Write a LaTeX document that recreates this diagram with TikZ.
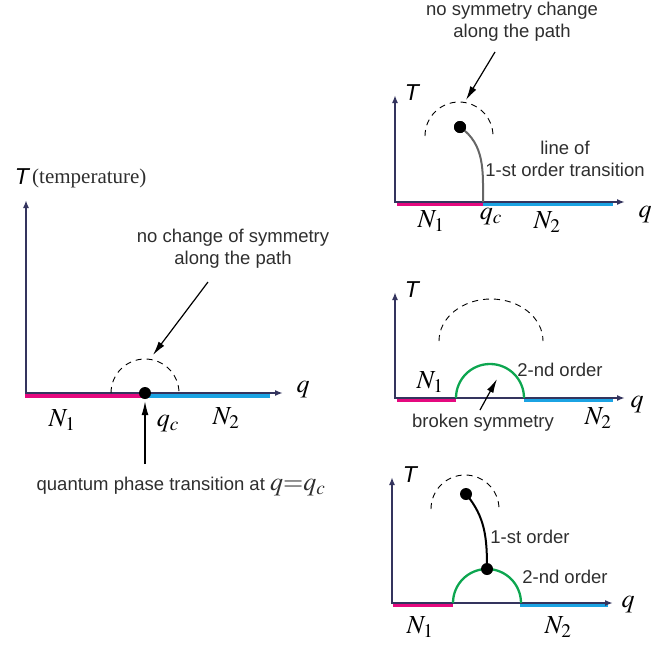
\documentclass[tikz,border=0pt]{standalone}
\usepackage{mathptmx}
\usepackage{fontspec}
\setmainfont{Liberation Sans}
\newfontfamily\notefont{Liberation Serif}
\usetikzlibrary{arrows.meta}
\definecolor{axisnavy}{HTML}{34345E}
\definecolor{phasepink}{HTML}{E5097F}
\definecolor{phasecyan}{HTML}{1BA3E3}
\definecolor{phasegreen}{HTML}{0DA650}
\tikzset{
  phaseaxes/.style={{Latex[length=8pt,width=6pt]}-{Latex[length=8pt,width=6pt]},line width=1.8pt,axisnavy},
  bandone/.style={line width=4pt,phasepink},
  bandtwo/.style={line width=4pt,phasecyan},
  pathhint/.style={dash pattern=on 6pt off 5pt,line width=0.9pt},
  secondline/.style={line width=2.3pt,phasegreen},
  firstline/.style={line width=2pt},
  critdot/.style={circle,fill=black,inner sep=0pt,minimum size=12pt},
  pointer/.style={-{Latex[length=14pt,width=7pt]},line width=1.2pt},
  lbl/.style={inner sep=0pt,text=black!82,font=\fontsize{18.5}{22}\selectfont},
  mlbl/.style={inner sep=0pt,font=\fontsize{26}{30}\selectfont},
  axlbl/.style={inner sep=0pt,font=\fontsize{23}{26}\selectfont\itshape}
}

\begin{document}
\begin{tikzpicture}[x=1pt,y=-1pt]
  \useasboundingbox (0,0) rectangle (662,648);
  % left: continuous path round the quantum critical point
  \draw[bandone] (25,395.5) -- (145,395.5);
  \draw[bandtwo] (145,395.5) -- (270,395.5);
  \draw[phaseaxes] (26,200) |- (283,393);
  \draw[pathhint] (111,393) arc[start angle=180,end angle=0,radius=34pt];
  \node[critdot] (qcL) at (145,393) {};
  \node[axlbl] (TL) at (22,177) {T};
  \node[lbl,right,font=\notefont\fontsize{21}{24}\selectfont] (tempL) at (32,178) {(temperature)};
  \node[mlbl] (N1L) at (62,420) {$N_1$};
  \node[mlbl] (N2L) at (226,418) {$N_2$};
  \node[mlbl] (qL) at (303,390) {$q$};
  \node[mlbl] (qcLbl) at (168,424) {$q_c$};
  \node[lbl,align=center] (noteL) at (233,249) {no change of symmetry\\along the path};
  \coordinate (noteLtail) at (208,282);
  \coordinate (noteLtip) at (153,355);
  \draw[pointer] (noteLtail) -- (noteLtip);
  \node[lbl] (qptL) at (181,487) {quantum phase transition at {\fontsize{26}{28}\selectfont$q{=}q_c$}};
  \coordinate (qptLtail) at (145,464);
  \draw[pointer,shorten >=2pt] (qptLtail) -- (qcL.south);

  % top right: end point of a 1-st order line
  \draw[bandone] (397,204) -- (483,204);
  \draw[bandtwo] (483,204) -- (613,204);
  \draw[phaseaxes] (395,95) |- (625,202);
  \draw[pathhint] (425,136) arc[start angle=180,end angle=0,radius=34pt];
  \coordinate (qcA) at (483,202);
  \node[critdot] (cpA) at (460,127) {};
  \draw[firstline,black!60] (cpA.center) to[out=-35,in=90] (qcA);
  \node[critdot] at (cpA) {};
  \node[axlbl] (TA) at (412,93) {T};
  \node[mlbl] (N1A) at (431,221) {$N_1$};
  \node[mlbl] (qcALbl) at (491,217) {$q_c$};
  \node[mlbl] (N2A) at (547,222) {$N_2$};
  \node[mlbl] (qA) at (645,215) {$q$};
  \node[lbl,align=center] (noteA) at (512,22) {no symmetry change\\along the path};
  \coordinate (noteAtail) at (495,52);
  \coordinate (noteAtip) at (466,100);
  \draw[pointer] (noteAtail) -- (noteAtip);
  \node[lbl,align=center] (firstA) at (565,159) {line of\\1-st order transition};

  % middle right: dome of broken symmetry
  \draw[bandone] (397,400) -- (456,400);
  \draw[bandtwo] (524,400) -- (613,400);
  \draw[phaseaxes] (395,292) |- (625,398);
  \draw[pathhint] (439,341) arc[start angle=180,end angle=0,x radius=52pt,y radius=42pt];
  \draw[secondline] (456,398) arc[start angle=180,end angle=0,radius=34pt];
  \node[axlbl] (TB) at (412,290) {T};
  \node[mlbl] (N1B) at (430,382) {$N_1$};
  \node[mlbl] (N2B) at (598,418) {$N_2$};
  \node[mlbl] (qB) at (637,405) {$q$};
  \node[lbl] (secondB) at (560,370) {2-nd order};
  \node[lbl] (brokenB) at (483,423) {broken symmetry};
  \coordinate (brokenBtail) at (480,410);
  \coordinate (brokenBtip) at (497,379);
  \draw[pointer] (brokenBtail) -- (brokenBtip);

  % bottom right: 1-st order line ending on the dome
  \draw[bandone] (393,605) -- (453,605);
  \draw[bandtwo] (520,605) -- (608,605);
  \draw[phaseaxes] (392,477) |- (613,603);
  \draw[pathhint] (431,509) arc[start angle=180,end angle=0,radius=34pt];
  \draw[secondline] (453,603) arc[start angle=180,end angle=0,radius=34pt];
  \coordinate (cpCpos) at (466,494);
  \coordinate (tcpCpos) at (487,569);
  \draw[firstline] (cpCpos) to[out=-50,in=90] (tcpCpos);
  \node[critdot] (cpC) at (cpCpos) {};
  \node[critdot] (tcpC) at (tcpCpos) {};
  \node[axlbl] (TC) at (410,475) {T};
  \node[lbl] (firstC) at (530,537) {1-st order};
  \node[lbl] (secondC) at (565,577) {2-nd order};
  \node[mlbl] (qC) at (628,605) {$q$};
  \node[mlbl] (N1C) at (420,627) {$N_1$};
  \node[mlbl] (N2C) at (558,627) {$N_2$};
\end{tikzpicture}
\end{document}
